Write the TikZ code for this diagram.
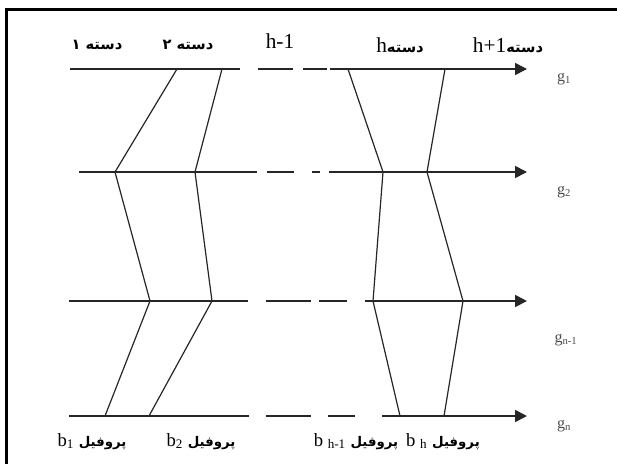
\documentclass[tikz,border=0pt]{standalone}
\usepackage{fontspec}
\setmainfont{Liberation Serif}
\newfontfamily\fa[Script=Arabic]{DejaVu Sans}
\TeXXeTstate=1
\usetikzlibrary{arrows.meta}
\newcommand\faw[1]{{\fa\bfseries\fontsize{10}{12}\selectfont\beginR #1\endR}}
\begin{document}
\begin{tikzpicture}[x=0.75pt,y=-0.75pt,
  axis/.style={draw=black!85,line width=1.3pt},
  axarrow/.style={axis,-{Triangle[length=9pt,width=9pt]}},
  prof/.style={draw=black!85,line width=0.9pt},
  frame/.style={draw=black,line width=2.4pt},
  falab/.style={inner sep=0pt,font=\fontsize{11}{13}\selectfont},
  lat/.style={inner sep=0pt,font=\fontsize{14}{16}\selectfont},
  glab/.style={inner sep=0pt,text=black!70,font=\fontsize{12}{14}\selectfont}]
\useasboundingbox (0,0) rectangle (617,464);
\fill[white] (0,0) rectangle (617,464);
% frame (top and left edges)
\coordinate (fbl) at (6.5,464);
\coordinate (ftl) at (6.5,9.5);
\coordinate (ftr) at (617,9.5);
\draw[frame] (fbl) -- (ftl) -- (ftr);

% axis coordinates
\foreach \n/\y/\ea/\da/\db/\dc/\dd/\sb in
  {1/69/240/258/293/303/327/330,
   2/172/257/267/294/312/320/329,
   3/301/248/266/311/319/347/365,
   4/416/249/266/311/328/355/382}{
  \coordinate (s\n) at ({\n==2 ? 79 : (\n==1 ? 70 : 69)},\y);
  \coordinate (e\n) at (\ea,\y);
  \coordinate (da\n) at (\da,\y);
  \coordinate (db\n) at (\db,\y);
  \coordinate (dc\n) at (\dc,\y);
  \coordinate (dd\n) at (\dd,\y);
  \coordinate (r\n) at (\sb,\y);
  \coordinate (t\n) at (527,\y);
  \draw[axis] (s\n) -- (e\n);
  \draw[axis] (da\n) -- (db\n);
  \draw[axis] (dc\n) -- (dd\n);
  \draw[axarrow] (r\n) -- (t\n);
}

% profiles
\coordinate (p11) at (177,69);  \coordinate (p12) at (115,172);
\coordinate (p13) at (150,301); \coordinate (p14) at (105,416);
\coordinate (p21) at (222,69);  \coordinate (p22) at (195,172);
\coordinate (p23) at (212,301); \coordinate (p24) at (149,416);
\coordinate (p31) at (348,69);  \coordinate (p32) at (383,172);
\coordinate (p33) at (373,301); \coordinate (p34) at (400,416);
\coordinate (p41) at (445,69);  \coordinate (p42) at (427,172);
\coordinate (p43) at (463,301); \coordinate (p44) at (444,416);
\foreach \k in {1,2,3,4}{
  \draw[prof] (p\k1) -- (p\k2) -- (p\k3) -- (p\k4);
}

% top labels
\node[falab] (c1) at (97,45) {\fa\bfseries\beginR دسته ۱\endR};
\node[falab] (c2) at (188,45) {\fa\bfseries\beginR دسته ۲\endR};
\node[lat,font=\fontsize{16}{18}\selectfont] (hm) at (280,41) {h-1};
\node[falab] (ch) at (400,45) {{\fontsize{16}{18}\selectfont\rmfamily h}\fa\bfseries\beginR دسته\endR};
\node[falab] (chp) at (508,45) {{\fontsize{16}{18}\selectfont\rmfamily h+1}\fa\bfseries\beginR دسته\endR};

% bottom labels
\node[lat,anchor=base] (b1) at (92,446) {b\textsubscript{1} \faw{پروفیل}};
\node[lat,anchor=base] (b2) at (201,446) {b\textsubscript{2} \faw{پروفیل}};
\node[lat,anchor=base] (b3) at (356,446) {b \textsubscript{h-1} \faw{پروفیل}};
\node[lat,anchor=base] (b4) at (443,446) {b \textsubscript{h} \faw{پروفیل}};

% g labels
\node[glab] (g1) at (564,79) {g\textsubscript{1}};
\node[glab] (g2) at (564,192) {g\textsubscript{2}};
\node[glab] (g3) at (566,340) {g\textsubscript{n-1}};
\node[glab] (g4) at (564,426) {g\textsubscript{n}};
\end{tikzpicture}
\end{document}
